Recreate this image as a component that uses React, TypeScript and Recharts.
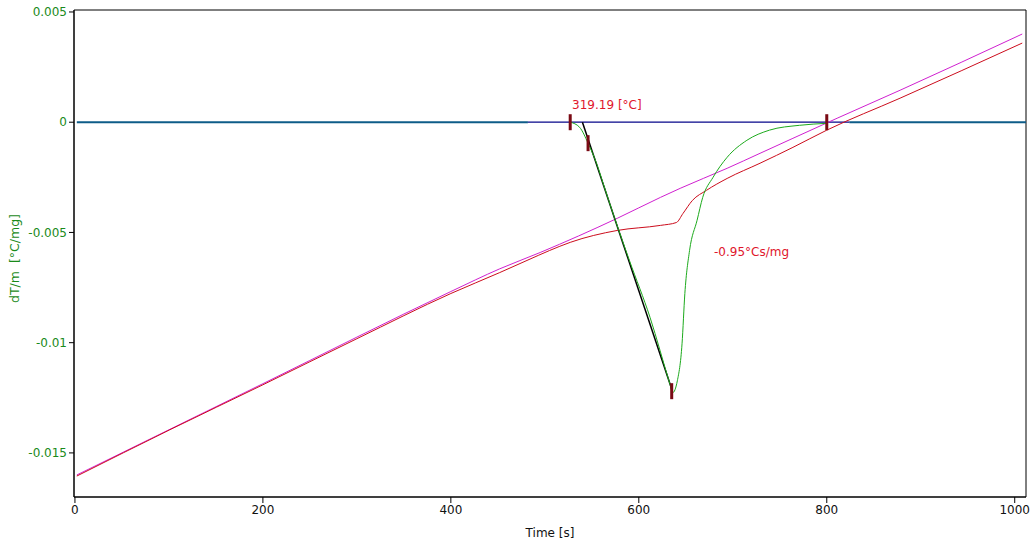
import {
  ComposedChart,
  Line,
  Scatter,
  XAxis,
  YAxis,
  ReferenceArea,
  Label,
} from 'recharts'

// time [s] / dT/m [°C/mg]
const redTime = [2, 101, 200, 300, 400, 452, 481, 505, 527, 577, 623, 640, 647, 657, 672, 694, 729, 764, 800, 878, 1008]
const redVal = [-0.01605, -0.01395, -0.01191, -0.00982, -0.00777, -0.00682, -0.00627, -0.00582, -0.00545, -0.00491, -0.00468, -0.00455, -0.00414, -0.00355, -0.00309, -0.00255, -0.00186, -0.00114, -0.00036, 0.00109, 0.00359]

const magTime = [2, 200, 400, 452, 495, 577, 623, 644, 694, 729, 764, 811, 878, 1008]
const magVal = [-0.016, -0.01186, -0.00768, -0.00665, -0.00591, -0.00436, -0.00341, -0.003, -0.00209, -0.00141, -0.00073, 0.00018, 0.00145, 0.004]

const greenTime = [527, 537, 546, 555, 562, 574, 590, 612, 633, 636, 641, 646, 649, 654, 662, 668, 679, 694, 715, 739, 771, 800]
const greenVal = [0, -0.00023, -0.00095, -0.00186, -0.00277, -0.00432, -0.00627, -0.00886, -0.01186, -0.01227, -0.01173, -0.01005, -0.00777, -0.00582, -0.00445, -0.00341, -0.0025, -0.00159, -0.00082, -0.00036, -0.00014, -0.00005]

const baseLeftTime = [2, 482]
const baseRightTime = [824, 1012]
const innerTime = [482, 824]
const zeroVal = [0, 0]

const tangentTime = [540, 635]
const tangentVal = [0, -0.0121]

const markerTime = [527, 546, 635, 800]
const markerVal = [0, -0.00095, -0.0122, 0]

const noteTime = [529, 680]
const noteVal = [0.00077, -0.00586]
const noteText = ['319.19 [°C]', '-0.95°Cs/mg']

const xTicks = [0, 200, 400, 600, 800, 1000]
const yTicks = [0.005, 0, -0.005, -0.01, -0.015]

const COLORS = {
  red: '#cc0c1c',
  magenta: '#d020d0',
  green: '#1caa1c',
  teal: '#0e5c88',
  navy: '#06068a',
  marker: '#7a0a14',
  tick: '#1a8a1a',
  note: '#e0162c',
} as const

const FONT = '"DejaVu Sans", sans-serif'

const zip = (xs: number[], ys: number[]) => xs.map((x, i) => ({ x, y: ys[i] }))

const red = zip(redTime, redVal)
const magenta = zip(magTime, magVal)
const green = zip(greenTime, greenVal)
const baseLeft = zip(baseLeftTime, zeroVal)
const baseRight = zip(baseRightTime, zeroVal)
const inner = zip(innerTime, zeroVal)
const tangent = zip(tangentTime, tangentVal)
const markers = zip(markerTime, markerVal)
const notes = noteTime.map((x, i) => ({ x, y: noteVal[i], text: noteText[i] }))

const MarkerShape = (props: any) => {
  const { cx, cy } = props
  return <rect x={cx - 1.5} y={cy - 8} width={3} height={16} fill={COLORS.marker} />
}

const NoteShape = (props: any) => {
  const { cx, cy, payload } = props
  return (
    <text x={cx} y={cy} dy="0.35em" fill={COLORS.note} fontSize={12} fontFamily={FONT}>
      {payload.text}
    </text>
  )
}

export default function App() {
  return (
    <div style={{ position: 'absolute', left: 0, top: 0, background: '#fff' }}>
      <ComposedChart
        width={1032}
        height={544}
        margin={{ top: 10, right: 6, bottom: 0, left: 0 }}
        style={{ fontFamily: FONT }}
      >
        <XAxis
          dataKey="x"
          type="number"
          domain={[-1, 1012]}
          ticks={xTicks}
          allowDataOverflow
          height={47}
          tickSize={6}
          axisLine={{ stroke: '#000' }}
          tickLine={{ stroke: '#000' }}
          tick={{ fill: '#111', fontSize: 12, fontFamily: FONT }}
        >
          <Label value="Time [s]" position="insideBottom" offset={7} fill="#111" fontSize={12} fontFamily={FONT} />
        </XAxis>
        <YAxis
          dataKey="y"
          type="number"
          domain={[-0.017, 0.00509]}
          ticks={yTicks}
          allowDataOverflow
          width={74}
          tickSize={5}
          axisLine={{ stroke: '#000' }}
          tickLine={{ stroke: '#000' }}
          tick={{ fill: COLORS.tick, fontSize: 12, fontFamily: FONT }}
          label={({ viewBox }: any) => {
            const x = viewBox.x + 19
            const y = viewBox.y + viewBox.height / 2 + 5
            return (
              <text
                x={x}
                y={y}
                transform={`rotate(-90 ${x} ${y})`}
                textAnchor="middle"
                fill={COLORS.tick}
                fontSize={12.5}
                fontFamily={FONT}
              >
                {'dT/m\u00a0\u00a0[°C/mg]'}
              </text>
            )
          }}
        />
        <ReferenceArea x1={-1} x2={1012} y1={-0.017} y2={0.00509} fill="none" stroke="#000" strokeWidth={1} />
        <Line data={baseLeft} dataKey="y" stroke={COLORS.teal} strokeWidth={2} dot={false} isAnimationActive={false} />
        <Line data={baseRight} dataKey="y" stroke={COLORS.teal} strokeWidth={2} dot={false} isAnimationActive={false} />
        <Line data={inner} dataKey="y" stroke={COLORS.navy} strokeWidth={1.2} dot={false} isAnimationActive={false} />
        <Line type="monotone" data={magenta} dataKey="y" stroke={COLORS.magenta} strokeWidth={1} dot={false} isAnimationActive={false} />
        <Line type="monotone" data={red} dataKey="y" stroke={COLORS.red} strokeWidth={1} dot={false} isAnimationActive={false} />
        <Line data={tangent} dataKey="y" stroke="#000" strokeWidth={1.5} dot={false} isAnimationActive={false} />
        <Line type="monotone" data={green} dataKey="y" stroke={COLORS.green} strokeWidth={1} dot={false} isAnimationActive={false} />
        <Scatter data={markers} dataKey="y" shape={MarkerShape} isAnimationActive={false} />
        <Scatter data={notes} dataKey="y" shape={NoteShape} isAnimationActive={false} />
      </ComposedChart>
    </div>
  )
}
